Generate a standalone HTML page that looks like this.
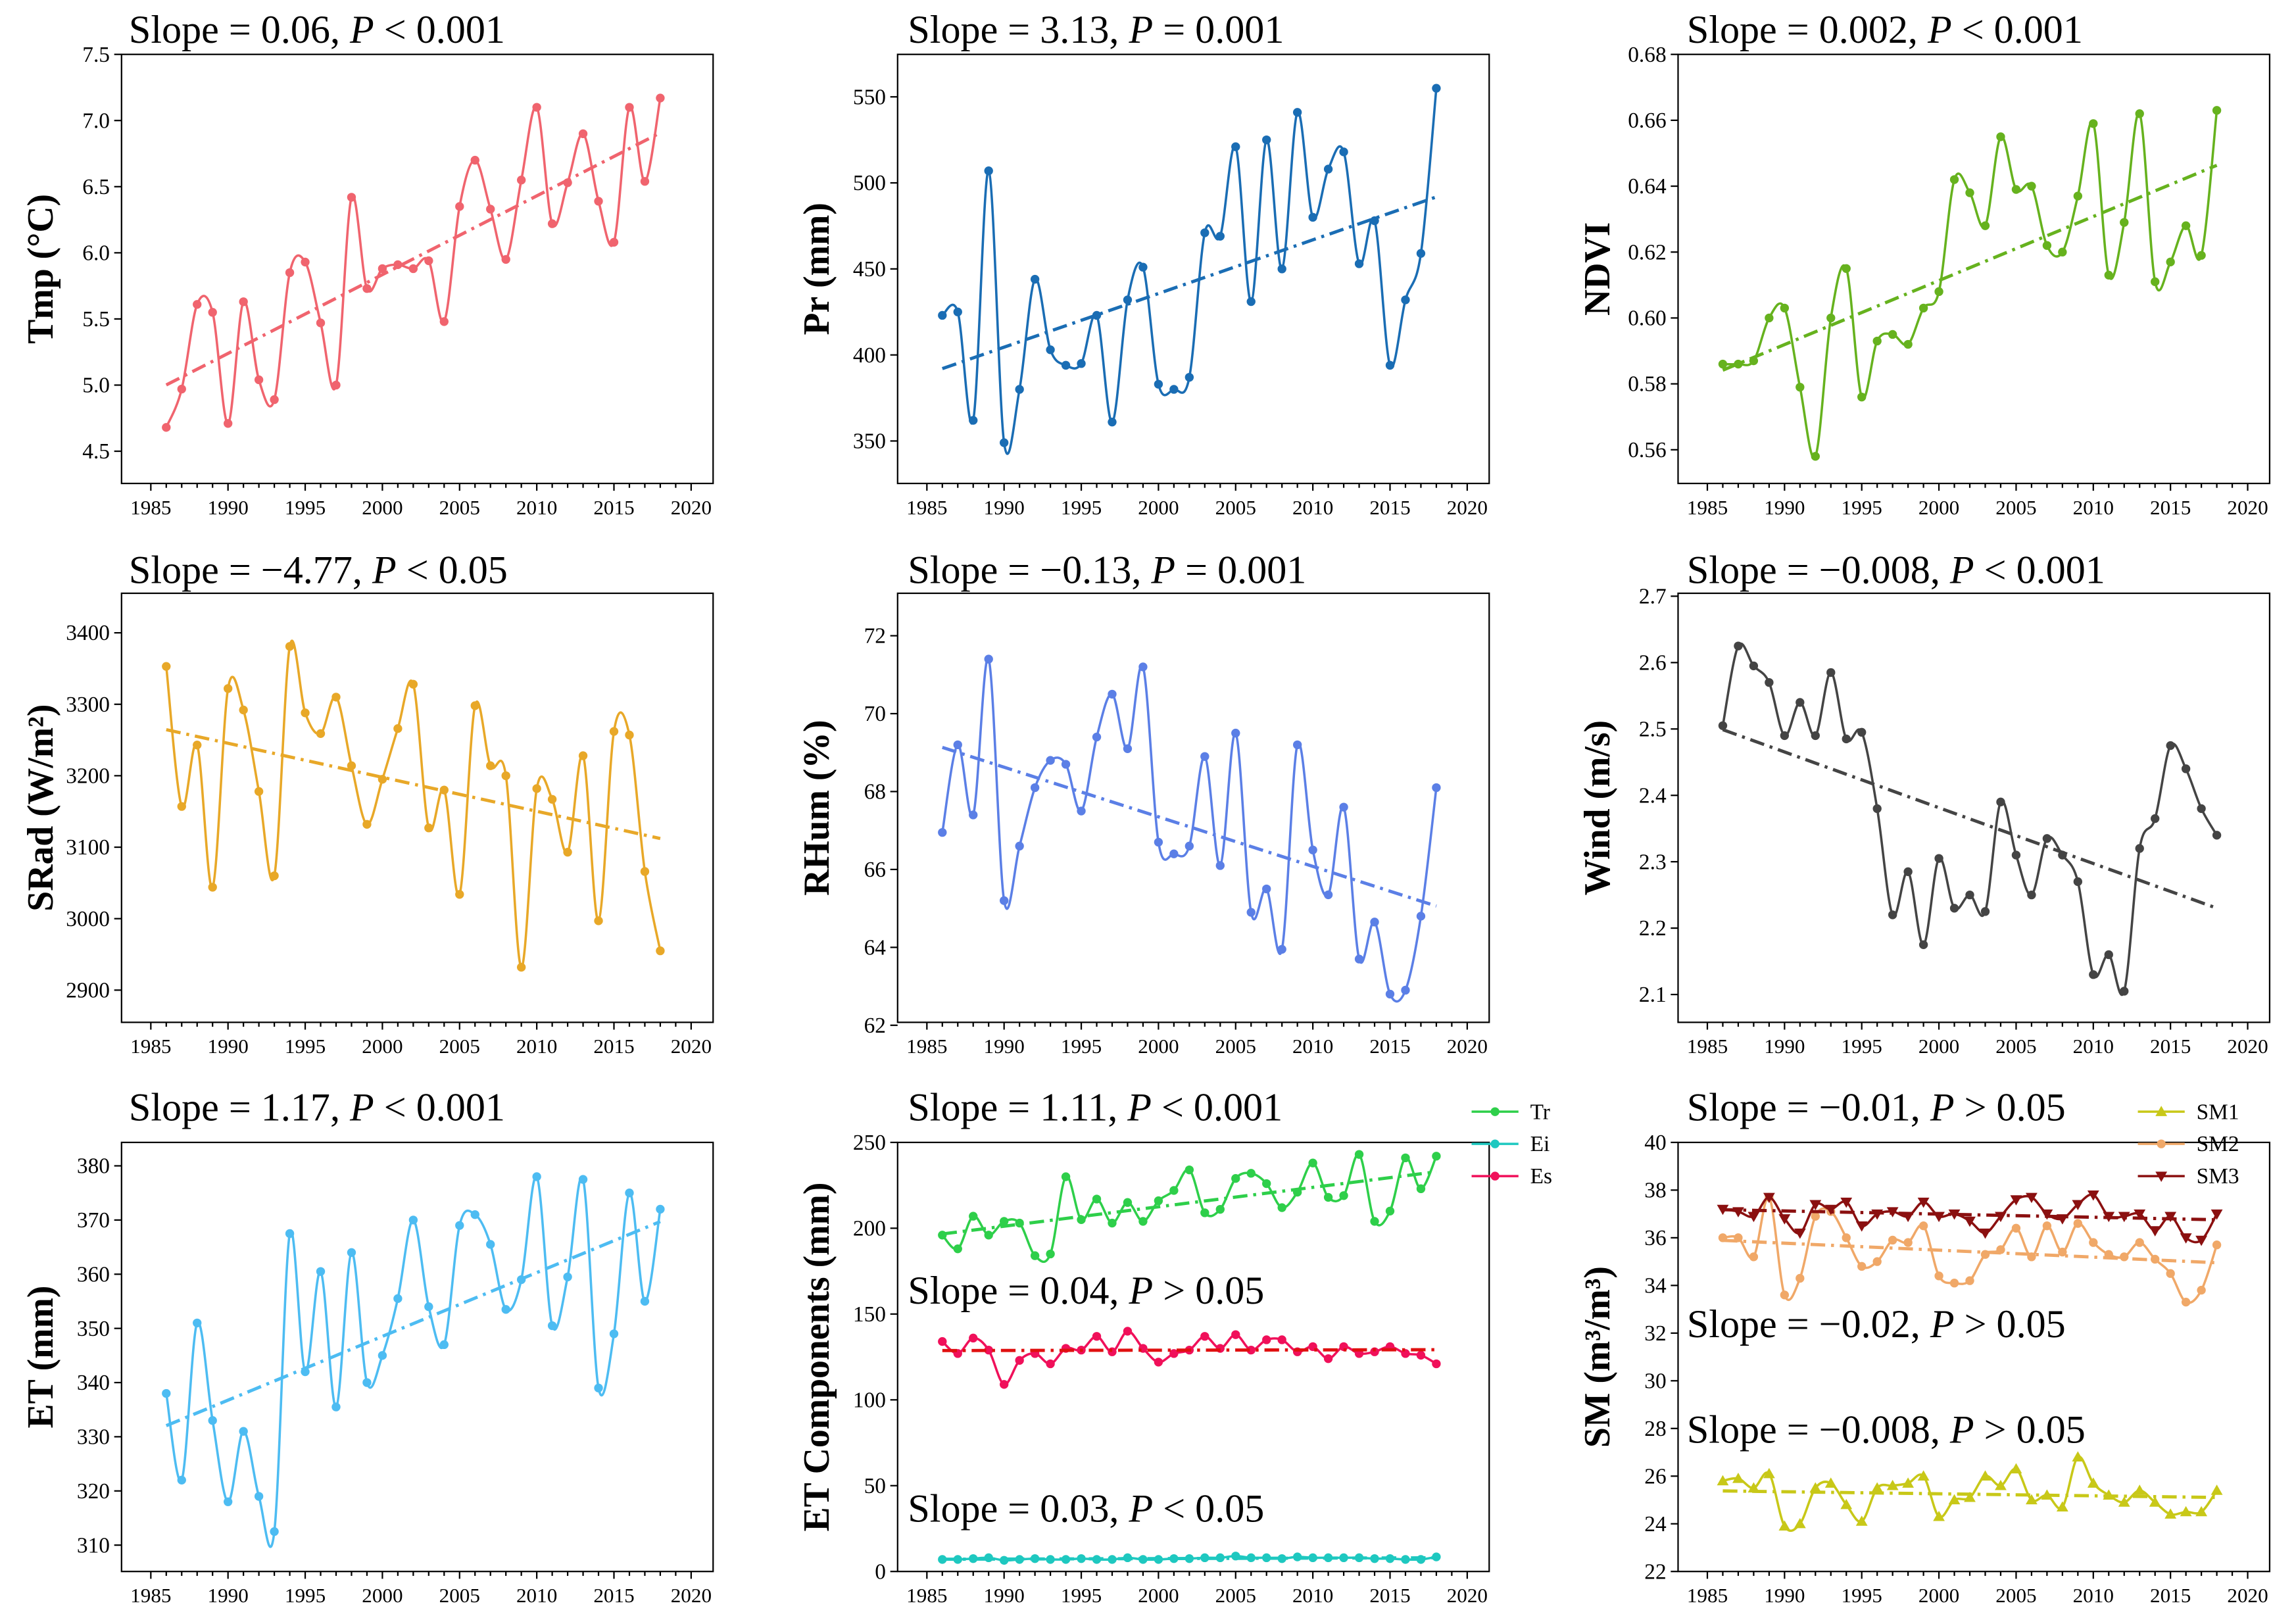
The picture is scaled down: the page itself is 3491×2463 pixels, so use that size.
<!DOCTYPE html>
<html><head><meta charset="utf-8"><style>
html,body{margin:0;padding:0;background:#fff;}
svg{display:block;font-family:"Liberation Serif",serif;}
</style></head><body>
<svg id="chart" width="3491" height="2463" viewBox="0 0 1568 1106" xmlns="http://www.w3.org/2000/svg"></svg>
<script>
const years = [];
for (let y = 1986; y <= 2018; y++) years.push(y);
const xTicks = [1985,1990,1995,2000,2005,2010,2015,2020];

const tmpVals = [4.68,4.97,5.61,5.55,4.71,5.63,5.04,4.89,5.85,5.93,5.47,5.00,6.42,5.73,5.88,5.91,5.88,5.94,5.48,6.35,6.70,6.33,5.95,6.55,7.10,6.22,6.53,6.90,6.39,6.08,7.10,6.54,7.17];
const prVals = [423,425,362,507,349,380,444,403,394,395,423,361,432,451,383,380,387,471,469,521,431,525,450,541,480,508,518,453,478,394,432,459,555];
const ndviVals = [0.586,0.586,0.587,0.600,0.603,0.579,0.558,0.600,0.615,0.576,0.593,0.595,0.592,0.603,0.608,0.642,0.638,0.628,0.655,0.639,0.640,0.622,0.620,0.637,0.659,0.613,0.629,0.662,0.611,0.617,0.628,0.619,0.663];
const sradVals = [3353,3157,3243,3044,3322,3292,3178,3060,3381,3288,3259,3310,3214,3132,3195,3266,3328,3127,3180,3034,3298,3214,3200,2932,3182,3167,3093,3228,2997,3262,3257,3066,2955];
const rhumVals = [66.95,69.2,67.4,71.4,65.2,66.6,68.1,68.8,68.7,67.5,69.4,70.5,69.1,71.2,66.7,66.4,66.6,68.9,66.1,69.5,64.9,65.5,63.95,69.2,66.5,65.35,67.6,63.7,64.65,62.8,62.9,64.8,68.1];
const windVals = [2.505,2.625,2.595,2.57,2.49,2.54,2.49,2.585,2.485,2.495,2.38,2.22,2.285,2.175,2.305,2.23,2.25,2.225,2.39,2.31,2.25,2.335,2.31,2.27,2.13,2.16,2.105,2.32,2.365,2.475,2.44,2.38,2.34];
const etVals = [338,322,351,333,318,331,319,312.5,367.5,342,360.5,335.5,364,340,345,355.5,370,354,347,369,371,365.5,353.5,359,378,350.5,359.5,377.5,339,349,375,355,372];
const trVals = [196,188,207,196,204,203,184,185,230,205,217,203,215,204,216,222,234,209,211,229,232,226,212,221,238,218,219,243,204,210,241,223,242];
const eiVals = [7,7,7.5,8,6.5,7,7.5,7,7,7.5,7,7,8,7,7,7.5,7.5,8,8,9,8,8,7.5,8.5,8,8,8,8,7.5,7.5,7,7,8.5];
const esVals = [134,127,136,129,109,123,127,121,130,129,137,128,140,130,122,127,129,137,130,138,129,135,135,128,131,124,131,127,128,131,127,126,121];
const sm1Vals = [25.8,25.9,25.5,26.1,23.9,24.0,25.5,25.7,24.8,24.1,25.5,25.6,25.7,26.0,24.3,25.0,25.1,26.0,25.6,26.3,25.0,25.2,24.7,26.8,25.7,25.2,24.9,25.4,24.9,24.4,24.5,24.5,25.4];
const sm2Vals = [36.0,36.0,35.2,37.7,33.6,34.3,36.9,37.1,36.0,34.8,35.0,35.9,35.8,36.5,34.4,34.1,34.2,35.3,35.5,36.4,35.2,36.5,35.4,36.6,35.8,35.3,35.2,35.8,35.1,34.5,33.3,33.8,35.7];
const sm3Vals = [37.2,37.1,36.9,37.7,36.8,36.2,37.4,37.2,37.5,36.5,37.0,37.1,36.9,37.5,36.9,37.0,36.7,36.2,36.9,37.6,37.7,37.0,36.8,37.4,37.8,36.9,36.9,37.0,36.3,36.9,36.0,35.9,37.0];

const tmpTicks = [4.5,5.0,5.5,6.0,6.5,7.0,7.5];
const prTicks = [350,400,450,500,550];
const ndviTicks = [0.56,0.58,0.60,0.62,0.64,0.66,0.68];
const sradTicks = [2900,3000,3100,3200,3300,3400];
const rhumTicks = [62,64,66,68,70,72];
const windTicks = [2.1,2.2,2.3,2.4,2.5,2.6,2.7];
const etTicks = [310,320,330,340,350,360,370,380];
const etcTicks = [0,50,100,150,200,250];
const smTicks = [22,24,26,28,30,32,34,36,38,40];

const NS = "http://www.w3.org/2000/svg";
const svg = document.getElementById('chart');
function el(tag, attrs, parent, text) {
  const e = document.createElementNS(NS, tag);
  for (const k in attrs) e.setAttribute(k, attrs[k]);
  if (text !== undefined) e.textContent = text;
  (parent || svg).appendChild(e);
  return e;
}

function smoothPath(pts) {
  let d = `M${pts[0][0]},${pts[0][1]}`;
  for (let i = 0; i < pts.length - 1; i++) {
    const p0 = pts[i-1] || pts[i], p1 = pts[i], p2 = pts[i+1], p3 = pts[i+2] || p2;
    const c1x = p1[0] + (p2[0]-p0[0])/6, c1y = p1[1] + (p2[1]-p0[1])/6;
    const c2x = p2[0] - (p3[0]-p1[0])/6, c2y = p2[1] - (p3[1]-p1[1])/6;
    d += ` C${c1x},${c1y} ${c2x},${c2y} ${p2[0]},${p2[1]}`;
  }
  return d;
}
function regress(xs, ys) {
  const n = xs.length; let sx=0, sy=0, sxx=0, sxy=0;
  for (let i=0;i<n;i++){sx+=xs[i];sy+=ys[i];sxx+=xs[i]*xs[i];sxy+=xs[i]*ys[i];}
  const b = (n*sxy - sx*sy)/(n*sxx - sx*sx); const a = (sy - b*sx)/n;
  return [a,b];
}

function panel(cfg) {
  const g = el('g', {});
  
  
  const L = cfg.left, R = cfg.left + 404, T = cfg.top, B = cfg.top + 293;
  const x = v => (cfg.left + 20) + (v - 1985) * (369/35);
  const y = v => cfg.y0px + (v - cfg.y0) * (cfg.y1px - cfg.y0px) / (cfg.y1 - cfg.y0);
  const frame = el('rect', {x:L, y:T, width:R-L, height:B-T, fill:'none', stroke:'#000', 'stroke-width':1}, g);
  
  
  for (let yr = 1985; yr <= 2020; yr++) {
    el('line', {x1:x(yr), x2:x(yr), y1:B, y2:B + (yr%5===0?5:3), stroke:'#000', 'stroke-width':1}, g);
  }
  xTicks.forEach(t => {
    const tl = el('text', {x:x(t), y:B+21, 'font-size':14, 'text-anchor':'middle'}, g, t);
    
    
  });
  cfg.ticks.forEach(t => {
    const py = y(t);
    el('line', {x1:L-5, x2:L, y1:py, y2:py, stroke:'#000', 'stroke-width':1}, g);
    const tl = el('text', {x:L-8, y:py+5, 'font-size':15, 'text-anchor':'end'}, g, cfg.fmt(t));
    
    
  });
  const yl = el('text', {x:0, y:0, 'font-size':25, 'font-weight':'bold', 'text-anchor':'middle',
    transform:`translate(${L-47},${(T+B)/2}) rotate(-90)`}, g, cfg.ylabel);
  
  
  cfg.titles.forEach(tt => {
    const t = el('text', {x:tt.x, y:tt.y, 'font-size':27}, g);
    
    
    el('tspan', {}, t, tt.a);
    el('tspan', {'font-style':'italic'}, t, 'P');
    el('tspan', {}, t, tt.b);
  });
  cfg.series.forEach(s => {
    const pts = years.map((yr,i) => [x(yr), y(s.vals[i])]);
    const line = el('path', {d:smoothPath(pts), fill:'none', stroke:s.color, 'stroke-width':1.6}, g);
    
    
    pts.forEach(p => {
      let m;
      if (s.marker === 'tri') m = el('path', {d:`M${p[0]},${p[1]-4} L${p[0]+4},${p[1]+3} L${p[0]-4},${p[1]+3}Z`, fill:s.color}, g);
      else if (s.marker === 'itri') m = el('path', {d:`M${p[0]},${p[1]+4} L${p[0]+4},${p[1]-3} L${p[0]-4},${p[1]-3}Z`, fill:s.color}, g);
      else m = el('circle', {cx:p[0], cy:p[1], r:3, fill:s.color}, g);
      
      
    });
    const [a,b] = regress(years, s.vals);
    const tr = el('line', {x1:x(1986), y1:y(a+b*1986), x2:x(2018), y2:y(a+b*2018), stroke:s.trend||s.color,
      'stroke-width':2.2, 'stroke-dasharray':'10,4,2,4'}, g);
    
    
  });
  if (cfg.legend) {
    cfg.series.forEach((s, i) => {
      const ly = cfg.legend.y + i*22;
      const lg = el('g', {}, g);
      
      
      el('line', {x1:cfg.legend.x, x2:cfg.legend.x+32, y1:ly, y2:ly, stroke:s.color, 'stroke-width':1.6}, lg);
      const cx = cfg.legend.x+16;
      if (s.marker==='tri') el('path', {d:`M${cx},${ly-4} L${cx+4},${ly+3} L${cx-4},${ly+3}Z`, fill:s.color}, lg);
      else if (s.marker==='itri') el('path', {d:`M${cx},${ly+4} L${cx+4},${ly-3} L${cx-4},${ly-3}Z`, fill:s.color}, lg);
      else el('circle', {cx:cx, cy:ly, r:3, fill:s.color}, lg);
      el('text', {x:cfg.legend.x+40, y:ly+5, 'font-size':15}, lg, s.label);
    });
  }
}
const f1 = v => v.toFixed(1), f0 = v => String(v), f2 = v => v.toFixed(2);
const colX = [83, 613, 1146];
const rowT = [37, 405, 780];

panel({name:'tmp', left:colX[0], top:rowT[0], y0:4.5, y0px:308, y1:7.5, y1px:37, ticks:tmpTicks, fmt:f1, ylabel:'Tmp (°C)',
  titles:[{x:88,y:29,a:'Slope = 0.06, ',b:' < 0.001'}], series:[{name:'tmp',vals:tmpVals,color:'#f0646e'}]});
panel({name:'pr', left:colX[1], top:rowT[0], y0:350, y0px:301, y1:550, y1px:66, ticks:prTicks, fmt:f0, ylabel:'Pr (mm)',
  titles:[{x:620,y:29,a:'Slope = 3.13, ',b:' = 0.001'}], series:[{name:'pr',vals:prVals,color:'#1a6db4'}]});
panel({name:'ndvi', left:colX[2], top:rowT[0], y0:0.56, y0px:307, y1:0.68, y1px:37, ticks:ndviTicks, fmt:f2, ylabel:'NDVI',
  titles:[{x:1152,y:29,a:'Slope = 0.002, ',b:' < 0.001'}], series:[{name:'ndvi',vals:ndviVals,color:'#66b21e'}]});
panel({name:'srad', left:colX[0], top:rowT[1], y0:2900, y0px:676, y1:3400, y1px:432, ticks:sradTicks, fmt:f0, ylabel:'SRad (W/m²)',
  titles:[{x:88,y:398,a:'Slope = −4.77, ',b:' < 0.05'}], series:[{name:'srad',vals:sradVals,color:'#e8a828'}]});
panel({name:'rhum', left:colX[1], top:rowT[1], y0:62, y0px:700, y1:72, y1px:434, ticks:rhumTicks, fmt:f0, ylabel:'RHum (%)',
  titles:[{x:620,y:398,a:'Slope = −0.13, ',b:' = 0.001'}], series:[{name:'rhum',vals:rhumVals,color:'#5b7fe6'}]});
panel({name:'wind', left:colX[2], top:rowT[1], y0:2.1, y0px:679, y1:2.7, y1px:407, ticks:windTicks, fmt:f1, ylabel:'Wind (m/s)',
  titles:[{x:1152,y:398,a:'Slope = −0.008, ',b:' < 0.001'}], series:[{name:'wind',vals:windVals,color:'#444'}]});
panel({name:'et', left:colX[0], top:rowT[2], y0:310, y0px:1055, y1:380, y1px:796, ticks:etTicks, fmt:f0, ylabel:'ET (mm)',
  titles:[{x:88,y:765,a:'Slope = 1.17, ',b:' < 0.001'}], series:[{name:'et',vals:etVals,color:'#4dbcf2'}]});
panel({name:'etc', left:colX[1], top:rowT[2], y0:0, y0px:1073, y1:250, y1px:780, ticks:etcTicks, fmt:f0, ylabel:'ET Components (mm)',
  titles:[{x:620,y:765,a:'Slope = 1.11, ',b:' < 0.001'},{x:620,y:890,a:'Slope = 0.04, ',b:' > 0.05'},{x:620,y:1039,a:'Slope = 0.03, ',b:' < 0.05'}],
  legend:{x:1005,y:759},
  series:[{name:'tr',label:'Tr',vals:trVals,color:'#2ecf4a'},{name:'ei',label:'Ei',vals:eiVals,color:'#1ec8c0'},{name:'es',label:'Es',vals:esVals,color:'#f0105a',trend:'#e01010'}]});
panel({name:'sm', left:colX[2], top:rowT[2], y0:22, y0px:1073, y1:40, y1px:780, ticks:smTicks, fmt:f0, ylabel:'SM (m³/m³)',
  titles:[{x:1152,y:765,a:'Slope = −0.01, ',b:' > 0.05'},{x:1152,y:913,a:'Slope = −0.02, ',b:' > 0.05'},{x:1152,y:985,a:'Slope = −0.008, ',b:' > 0.05'}],
  legend:{x:1460,y:759},
  series:[{name:'sm1',label:'SM1',vals:sm1Vals,color:'#c8c818',marker:'tri'},{name:'sm2',label:'SM2',vals:sm2Vals,color:'#f0a868'},{name:'sm3',label:'SM3',vals:sm3Vals,color:'#8b1010',marker:'itri'}]});
</script>
</body></html>
